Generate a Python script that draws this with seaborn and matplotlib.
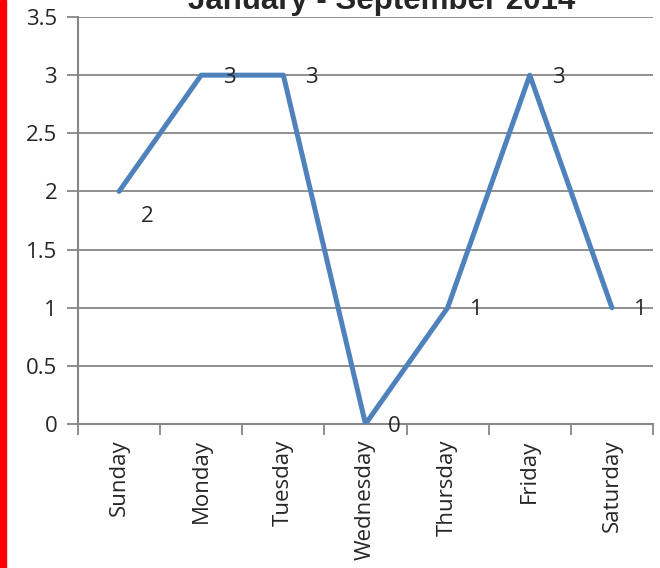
import pandas as pd
import matplotlib.pyplot as plt
import matplotlib.ticker as mticker
import seaborn as sns

days = ["Sunday", "Monday", "Tuesday", "Wednesday", "Thursday", "Friday", "Saturday"]
counts = [2, 3, 3, 0, 1, 3, 1]
title = "January - September 2014"

sns.set_style("white")
plt.rcParams['font.family'] = ['Open Sans', 'DejaVu Sans']

df = pd.DataFrame({"day": days, "count": counts})

fig = plt.figure(figsize=(6.6, 5.68), dpi=100)
ax = fig.add_axes([78 / 660, 1 - 424 / 568, (653 - 78) / 660, (424 - 17) / 568])

# red strip down the left edge
fig.patches.append(plt.Rectangle((0, 0), 6 / 660, 1, transform=fig.transFigure,
                                 color="#FF0000", zorder=5))

grey = "#878787"
sns.lineplot(x="day", y="count", data=df, sort=False, color="#4F81BD",
             linewidth=3.6, ax=ax, zorder=3)

ax.set_xlim(-0.5, len(days) - 0.5)
ax.set_ylim(0, 3.5)
ax.set_yticks([i * 0.5 for i in range(8)])
ax.yaxis.set_major_formatter(mticker.FuncFormatter(lambda v, p: f"{v:g}"))
ax.grid(axis="y", color=grey, linewidth=1.3)
ax.set_axisbelow(True)

# category labels at centres, tick marks at boundaries
ax.set_xticks(range(len(days)))
ax.set_xticklabels(days, rotation=90, va="top", ha="center")
ax.set_xticks([i - 0.5 for i in range(len(days) + 1)], minor=True)
ax.tick_params(axis="x", which="major", bottom=True, length=0, pad=11, labelsize=16)
ax.tick_params(axis="x", which="minor", bottom=True, length=8, width=1.3, color=grey, direction="out")
ax.tick_params(axis="y", left=True, length=8, width=1.3, color=grey, direction="out", pad=7, labelsize=16)

for s in ["top", "right"]:
    ax.spines[s].set_visible(False)
for s in ["left", "bottom"]:
    ax.spines[s].set_color(grey)
    ax.spines[s].set_linewidth(1.5)

ax.set_xlabel("")
ax.set_ylabel("")

for i, v in enumerate(counts):
    dy = -18 if i == 0 else -1.5
    ax.annotate(str(v), (i, v), xytext=(20.5, dy), textcoords="offset points",
                ha="center", va="center", fontsize=16, zorder=4)

fig.text(382 / 660, 1 - 9 / 568, title, ha="center", va="baseline",
         fontsize=22.5, fontweight="bold", family=["Liberation Sans", "DejaVu Sans"])

fig.savefig("out.png", dpi=100)
